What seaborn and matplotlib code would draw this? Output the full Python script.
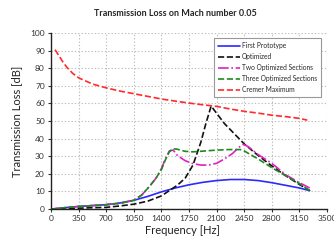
import numpy as np
import pandas as pd
import matplotlib
matplotlib.use('Agg')
import matplotlib.pyplot as plt
import seaborn as sns

# values
f_first = [0, 175, 350, 525, 700, 875, 1050, 1225, 1400, 1575, 1750, 1925, 2100, 2275, 2450,
           2625, 2800, 2975, 3150, 3280]
tl_first = [0, 0.8, 1.5, 2.0, 2.5, 3.5, 5, 7.2, 9.8, 12, 13.8, 15.2, 16.2, 16.8, 16.8,
            16.2, 15, 13.5, 12, 10.5]

f_opt = [0, 175, 350, 525, 700, 875, 1050, 1225, 1400, 1500, 1600, 1700, 1800, 1900, 1960,
         2030, 2200, 2450, 2625, 2800, 2975, 3150, 3280]
tl_opt = [0, 0.2, 0.5, 0.8, 1, 1.8, 2.8, 4.5, 7.5, 10.5, 13.5, 17.5, 25, 38, 48,
          58.5, 48.5, 37, 30.5, 24.5, 19, 14, 10.5]

f_two = [0, 175, 350, 525, 700, 875, 1050, 1150, 1250, 1330, 1400, 1450, 1500, 1550, 1600,
         1700, 1800, 1900, 2000, 2100, 2200, 2300, 2380, 2440, 2500, 2625, 2800, 2975, 3150, 3280]
tl_two = [0, 0.8, 1.5, 2.0, 2.5, 3.3, 5, 8, 13, 17.5, 23, 28.5, 33, 33.5, 30.5,
          27.5, 25.8, 25, 25, 26, 28.5, 31.5, 35, 36.7, 35.5, 31, 26, 19.5, 15, 12]

f_three = [0, 175, 350, 525, 700, 875, 1050, 1150, 1250, 1330, 1400, 1450, 1500, 1540, 1600,
           1700, 1800, 1950, 2100, 2250, 2400, 2450, 2625, 2800, 2975, 3150, 3280]
tl_three = [0, 0.8, 1.5, 2.0, 2.5, 3.3, 5, 8, 13, 17.5, 22.5, 28, 32.5, 34.3, 34,
            32.8, 32.5, 33, 33.5, 33.8, 33.8, 33, 28.5, 23.5, 19, 14.5, 10.4]

f_cremer = [50, 100, 150, 200, 275, 350, 525, 700, 875, 1050, 1225, 1400, 1575, 1750, 1925,
            2100, 2275, 2450, 2625, 2800, 2975, 3150, 3250]
tl_cremer = [90.5, 87, 83.5, 80.5, 77, 74.5, 71, 68.8, 67, 65.5, 64, 62.5, 61.3, 60.2, 59.2,
             58.3, 56.8, 55.5, 54.5, 53.3, 52.5, 51.5, 50.5]

x_ticks = list(range(0, 3501, 350))
y_ticks = list(range(0, 101, 10))

sns.set_style('whitegrid')
plt.rcParams['font.family'] = ['Lato', 'DejaVu Sans']

fig = plt.figure(figsize=(3.34, 2.44), dpi=100)
ax = fig.add_axes([0.153, 0.143, 0.826, 0.722])

series = [
    ('First Prototype', f_first, tl_first, '#2a2aff', '-', None),
    ('Optimized', f_opt, tl_opt, '#111111', '--', (3, 1.5)),
    ('Two Optimized Sections', f_two, tl_two, '#e020c0', '-.', (5, 2, 1, 2)),
    ('Three Optimized Sections', f_three, tl_three, '#1e8a1e', '--', (9, 2.5)),
    ('Cremer Maximum', f_cremer, tl_cremer, '#ff2a2a', '--', (4, 2.5)),
]

for name, f, tl, color, ls, dash in series:
    df = pd.DataFrame({'Frequency': f, 'TL': tl})
    kw = dict(dashes=dash) if dash else {}
    sns.lineplot(data=df, x='Frequency', y='TL', ax=ax, color=color, linewidth=1.2,
                 linestyle=ls, label=name, **kw)

ax.set_xlim(0, 3500)
ax.set_ylim(0, 100)
ax.set_xticks(x_ticks)
ax.set_yticks(y_ticks)
ax.tick_params(axis='both', labelsize=6, colors='#333333', length=2.5, width=0.8,
               direction='out', pad=2, bottom=True, left=True)
ax.grid(True, color='#bdbdbd', linestyle=(0, (1.2, 1.8)), linewidth=0.8)
for s in ['top', 'right']:
    ax.spines[s].set_visible(False)
for s in ['left', 'bottom']:
    ax.spines[s].set_color('#222222')
    ax.spines[s].set_linewidth(1.0)

ax.set_xlabel('Frequency [Hz]', fontsize=8, color='#222222')
ax.set_ylabel('Transmission Loss [dB]', fontsize=8, color='#222222')
ax.xaxis.set_label_coords(0.475, -0.09)
ax.yaxis.set_label_coords(-0.105, 0.5)
fig.suptitle('Transmission Loss on Mach number 0.05', fontsize=6.5, fontweight='bold',
             x=0.525, y=0.965)

leg = ax.legend(loc='upper right', bbox_to_anchor=(0.99, 0.99), fontsize=4.8,
                frameon=True, fancybox=False, handlelength=3.2, handletextpad=0.3,
                labelspacing=0.6, borderpad=0.6)
leg.get_frame().set_edgecolor('#999999')
leg.get_frame().set_linewidth(0.8)
leg.get_frame().set_alpha(1)

fig.savefig('out.png', dpi=100)
